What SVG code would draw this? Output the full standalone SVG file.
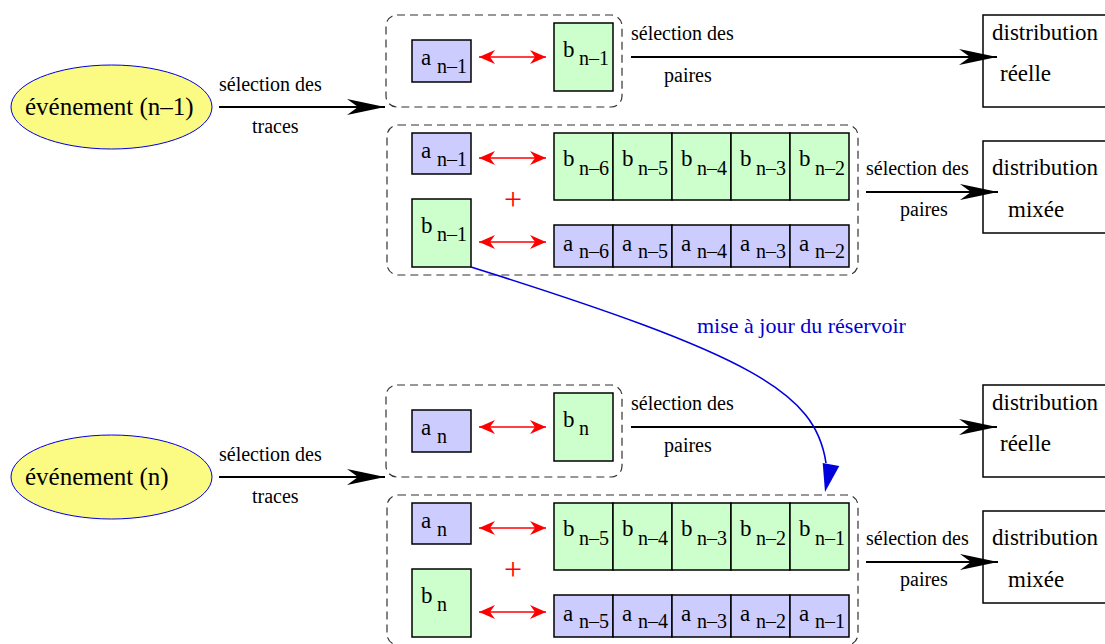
<svg xmlns="http://www.w3.org/2000/svg" width="1105" height="644" viewBox="0 0 1105 644" font-family="'Liberation Serif', 'Times New Roman', serif">
<style>
text{font-family:'Liberation Serif','Times New Roman',serif;fill:#000}
.ev{font-size:25px}
.lab{font-size:20px}
.dist{font-size:23px}
.l{font-size:23px}
.s{font-size:20px}
.plus{font-size:32px;fill:#ff0000;text-anchor:middle}
.blue{font-size:22px;fill:#0000cc}
.ell{fill:#fbfb83;stroke:#0000dd;stroke-width:1}
.ca{fill:#ccccff;stroke:#000;stroke-width:1.5}
.cb{fill:#ccffcc;stroke:#000;stroke-width:1.5}
.grp{fill:none;stroke:#333;stroke-width:1.2;stroke-dasharray:8 5}
.dbox{fill:#fff;stroke:#000;stroke-width:1.5}
.arr{fill:none;stroke:#000;stroke-width:1.8;marker-end:url(#ah)}
.red{fill:none;stroke:#ff0000;stroke-width:1.6;marker-start:url(#rh);marker-end:url(#rh)}
.curve{fill:none;stroke:#0000dd;stroke-width:1.6}
</style>
<defs>
<marker id="ah" markerUnits="userSpaceOnUse" orient="auto" viewBox="-40 -10 42 20" markerWidth="42" markerHeight="20" refX="0" refY="0">
<path d="M0,0 L-38,-8 L-27,0 L-38,8 Z" fill="#000"/>
</marker>
<marker id="rh" markerUnits="userSpaceOnUse" orient="auto-start-reverse" viewBox="-18 -8 19 16" markerWidth="19" markerHeight="16" refX="0" refY="0">
<path d="M0,0 L-16,-7 L-11,0 L-16,7 Z" fill="#ff0000"/>
</marker>
</defs>

<g id="event-n-1">
<ellipse class="ell" cx="111.5" cy="107" rx="100.5" ry="42"/>
<text class="ev" x="25" y="115">événement (n–1)</text>
</g>
<g id="group-real-n-1">
<rect class="grp" x="386" y="15" width="236" height="92" rx="11"/>
</g>
<g id="a-n-1-top">
<rect class="ca" x="412" y="40" width="59" height="42"/>
<text class="l"><tspan x="421" y="65">a</tspan><tspan class="s" x="437" y="73">n–1</tspan></text>
</g>
<g id="b-n-1-top">
<rect class="cb" x="554" y="23" width="59" height="68"/>
<text class="l"><tspan x="563" y="57">b</tspan><tspan class="s" x="579" y="65">n–1</tspan></text>
</g>
<g id="dist-real-n-1">
<rect class="dbox" x="983" y="15" width="200" height="92"/>
<text class="dist" x="992" y="40">distribution</text>
<text class="dist" x="1000" y="81">réelle</text>
</g>

<g id="group-mixed-n-1">
<rect class="grp" x="387" y="125" width="471" height="150" rx="11"/>
</g>
<g id="a-n-1-mix">
<rect class="ca" x="412" y="133" width="59" height="41"/>
<text class="l"><tspan x="421" y="158">a</tspan><tspan class="s" x="437" y="166">n–1</tspan></text>
</g>
<g id="b-n-1-mix">
<rect class="cb" x="412" y="199" width="59" height="68"/>
<text class="l"><tspan x="421" y="233">b</tspan><tspan class="s" x="437" y="241">n–1</tspan></text>
</g>
<g id="b-reservoir-n-1">
<rect class="cb" x="554" y="133" width="59" height="67"/>
<rect class="cb" x="613" y="133" width="59" height="67"/>
<rect class="cb" x="672" y="133" width="59" height="67"/>
<rect class="cb" x="731" y="133" width="59" height="67"/>
<rect class="cb" x="790" y="133" width="59" height="67"/>
<text class="l"><tspan x="563" y="166">b</tspan><tspan class="s" x="579" y="175">n–6</tspan></text>
<text class="l"><tspan x="622" y="166">b</tspan><tspan class="s" x="638" y="175">n–5</tspan></text>
<text class="l"><tspan x="681" y="166">b</tspan><tspan class="s" x="697" y="175">n–4</tspan></text>
<text class="l"><tspan x="740" y="166">b</tspan><tspan class="s" x="756" y="175">n–3</tspan></text>
<text class="l"><tspan x="799" y="166">b</tspan><tspan class="s" x="815" y="175">n–2</tspan></text>
</g>
<g id="a-reservoir-n-1">
<rect class="ca" x="554" y="225" width="59" height="42"/>
<rect class="ca" x="613" y="225" width="59" height="42"/>
<rect class="ca" x="672" y="225" width="59" height="42"/>
<rect class="ca" x="731" y="225" width="59" height="42"/>
<rect class="ca" x="790" y="225" width="59" height="42"/>
<text class="l"><tspan x="563" y="251">a</tspan><tspan class="s" x="579" y="258">n–6</tspan></text>
<text class="l"><tspan x="622" y="251">a</tspan><tspan class="s" x="638" y="258">n–5</tspan></text>
<text class="l"><tspan x="681" y="251">a</tspan><tspan class="s" x="697" y="258">n–4</tspan></text>
<text class="l"><tspan x="740" y="251">a</tspan><tspan class="s" x="756" y="258">n–3</tspan></text>
<text class="l"><tspan x="799" y="251">a</tspan><tspan class="s" x="815" y="258">n–2</tspan></text>
</g>
<g id="plus-n-1"><text class="plus" x="513" y="210">+</text></g>
<g id="dist-mixed-n-1">
<rect class="dbox" x="983" y="141" width="200" height="92"/>
<text class="dist" x="992" y="175">distribution</text>
<text class="dist" x="1008" y="217">mixée</text>
</g>

<g id="event-n">
<ellipse class="ell" cx="111.5" cy="477" rx="100.5" ry="42"/>
<text class="ev" x="25" y="485">événement (n)</text>
</g>
<g id="group-real-n">
<rect class="grp" x="386" y="385" width="236" height="92" rx="11"/>
</g>
<g id="a-n-top">
<rect class="ca" x="412" y="410" width="59" height="42"/>
<text class="l"><tspan x="421" y="435">a</tspan><tspan class="s" x="437" y="443">n</tspan></text>
</g>
<g id="b-n-top">
<rect class="cb" x="554" y="393" width="59" height="68"/>
<text class="l"><tspan x="563" y="427">b</tspan><tspan class="s" x="579" y="435">n</tspan></text>
</g>
<g id="dist-real-n">
<rect class="dbox" x="983" y="385" width="200" height="92"/>
<text class="dist" x="992" y="410">distribution</text>
<text class="dist" x="1000" y="451">réelle</text>
</g>

<g id="group-mixed-n">
<rect class="grp" x="387" y="495" width="471" height="150" rx="11"/>
</g>
<g id="a-n-mix">
<rect class="ca" x="412" y="503" width="59" height="41"/>
<text class="l"><tspan x="421" y="528">a</tspan><tspan class="s" x="437" y="536">n</tspan></text>
</g>
<g id="b-n-mix">
<rect class="cb" x="412" y="569" width="59" height="68"/>
<text class="l"><tspan x="421" y="603">b</tspan><tspan class="s" x="437" y="611">n</tspan></text>
</g>
<g id="b-reservoir-n">
<rect class="cb" x="554" y="503" width="59" height="67"/>
<rect class="cb" x="613" y="503" width="59" height="67"/>
<rect class="cb" x="672" y="503" width="59" height="67"/>
<rect class="cb" x="731" y="503" width="59" height="67"/>
<rect class="cb" x="790" y="503" width="59" height="67"/>
<text class="l"><tspan x="563" y="536">b</tspan><tspan class="s" x="579" y="545">n–5</tspan></text>
<text class="l"><tspan x="622" y="536">b</tspan><tspan class="s" x="638" y="545">n–4</tspan></text>
<text class="l"><tspan x="681" y="536">b</tspan><tspan class="s" x="697" y="545">n–3</tspan></text>
<text class="l"><tspan x="740" y="536">b</tspan><tspan class="s" x="756" y="545">n–2</tspan></text>
<text class="l"><tspan x="799" y="536">b</tspan><tspan class="s" x="815" y="545">n–1</tspan></text>
</g>
<g id="a-reservoir-n">
<rect class="ca" x="554" y="595" width="59" height="42"/>
<rect class="ca" x="613" y="595" width="59" height="42"/>
<rect class="ca" x="672" y="595" width="59" height="42"/>
<rect class="ca" x="731" y="595" width="59" height="42"/>
<rect class="ca" x="790" y="595" width="59" height="42"/>
<text class="l"><tspan x="563" y="621">a</tspan><tspan class="s" x="579" y="628">n–5</tspan></text>
<text class="l"><tspan x="622" y="621">a</tspan><tspan class="s" x="638" y="628">n–4</tspan></text>
<text class="l"><tspan x="681" y="621">a</tspan><tspan class="s" x="697" y="628">n–3</tspan></text>
<text class="l"><tspan x="740" y="621">a</tspan><tspan class="s" x="756" y="628">n–2</tspan></text>
<text class="l"><tspan x="799" y="621">a</tspan><tspan class="s" x="815" y="628">n–1</tspan></text>
</g>
<g id="plus-n"><text class="plus" x="513" y="580">+</text></g>
<g id="dist-mixed-n">
<rect class="dbox" x="983" y="511" width="200" height="92"/>
<text class="dist" x="992" y="545">distribution</text>
<text class="dist" x="1008" y="587">mixée</text>
</g>

<g id="connectors">
<path class="arr" d="M219,107 H385"/>
<text class="lab" x="219" y="91">sélection des</text>
<text class="lab" x="252" y="133">traces</text>
<path class="arr" d="M631,57 H997"/>
<text class="lab" x="631" y="40">sélection des</text>
<text class="lab" x="664" y="82">paires</text>
<path class="arr" d="M866,192 H998"/>
<text class="lab" x="866" y="175">sélection des</text>
<text class="lab" x="900" y="216">paires</text>
<path class="red" d="M479,57 H546"/>
<path class="red" d="M479,158 H546"/>
<path class="red" d="M479,242 H546"/>

<path class="arr" d="M219,477 H385"/>
<text class="lab" x="219" y="461">sélection des</text>
<text class="lab" x="252" y="503">traces</text>
<path class="arr" d="M631,427 H997"/>
<text class="lab" x="631" y="410">sélection des</text>
<text class="lab" x="664" y="452">paires</text>
<path class="arr" d="M866,562 H998"/>
<text class="lab" x="866" y="545">sélection des</text>
<text class="lab" x="900" y="586">paires</text>
<path class="red" d="M479,427 H546"/>
<path class="red" d="M479,528 H546"/>
<path class="red" d="M479,612 H546"/>

<path class="curve" d="M471,267 C751,355 815.5,392 826,463"/>
<polygon points="822.7,463 839.3,466 825,492" fill="#0000dd"/>
<text class="blue" x="697" y="333">mise à jour du réservoir</text>
</g>
</svg>
